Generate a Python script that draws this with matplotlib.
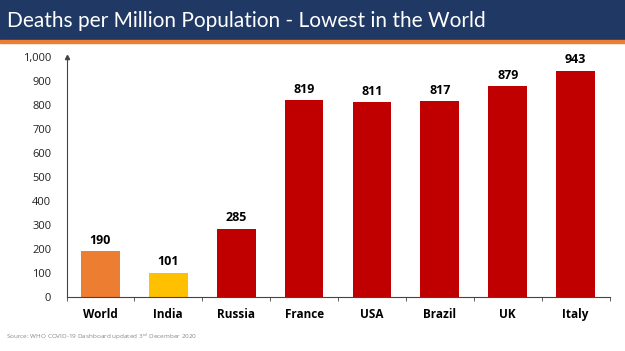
import matplotlib.pyplot as plt
from matplotlib.patches import Rectangle

categories = ["World", "India", "Russia", "France", "USA", "Brazil", "UK", "Italy"]
values = [190, 101, 285, 819, 811, 817, 879, 943]
colors = ["#ED7D31", "#FFC000", "#C00000", "#C00000", "#C00000", "#C00000", "#C00000", "#C00000"]
yticks = [0, 100, 200, 300, 400, 500, 600, 700, 800, 900, 1000]

W, H = 625, 351
fig = plt.figure(figsize=(W/100, H/100), dpi=100)
fig.patch.set_facecolor("white")

# title band
fig.patches.append(Rectangle((0, 1 - 40/H), 1, 40/H, transform=fig.transFigure, color="#1F3864", zorder=0))
fig.patches.append(Rectangle((0, 1 - 43/H), 1, 3/H, transform=fig.transFigure, color="#ED7D31", zorder=0))
fig.text(7/W, 1 - 21/H, "Deaths per Million Population - Lowest in the World", color="white",
         fontsize=15, family="Lato", va="center", ha="left")

ax = fig.add_axes([66.5/W, 1 - 297/H, (609.5-66.5)/W, (297-57)/H])
x = list(range(len(categories)))
ax.bar(x, values, width=0.57, color=colors, zorder=2)
for xi, v in zip(x, values):
    ax.text(xi, v + 18, str(v), ha="center", va="bottom", fontsize=9, fontweight="bold", family="Open Sans")

ax.set_xlim(-0.5, len(categories) - 0.5)
ax.set_ylim(0, 1000)
ax.set_yticks(yticks)
ax.set_yticklabels([f"{t:,}" for t in yticks], fontsize=8, family="Open Sans", color="#222222")
ax.tick_params(axis="y", length=0, pad=11)
ax.set_xticks(x)
ax.set_xticklabels(categories, fontsize=8.5, fontweight="bold", family="Open Sans")
ax.tick_params(axis="x", length=0, pad=8)
ax.set_xticks([i - 0.5 for i in range(len(categories) + 1)], minor=True)
ax.tick_params(axis="x", which="minor", length=3, direction="out", color="#444444")
for s in ["top", "right"]:
    ax.spines[s].set_visible(False)
ax.spines["left"].set_color("#444444")
ax.spines["bottom"].set_color("#444444")
ax.plot([0], [1], marker="^", markersize=3, color="#444444", transform=ax.transAxes, clip_on=False)

fig.text(6/W, 1 - 337/H, "Source: WHO COVID-19 Dashboard updated 3$^{rd}$ December 2020",
         fontsize=4.6, color="#888888", family="Open Sans", va="center")

fig.savefig("out.png", dpi=100)
